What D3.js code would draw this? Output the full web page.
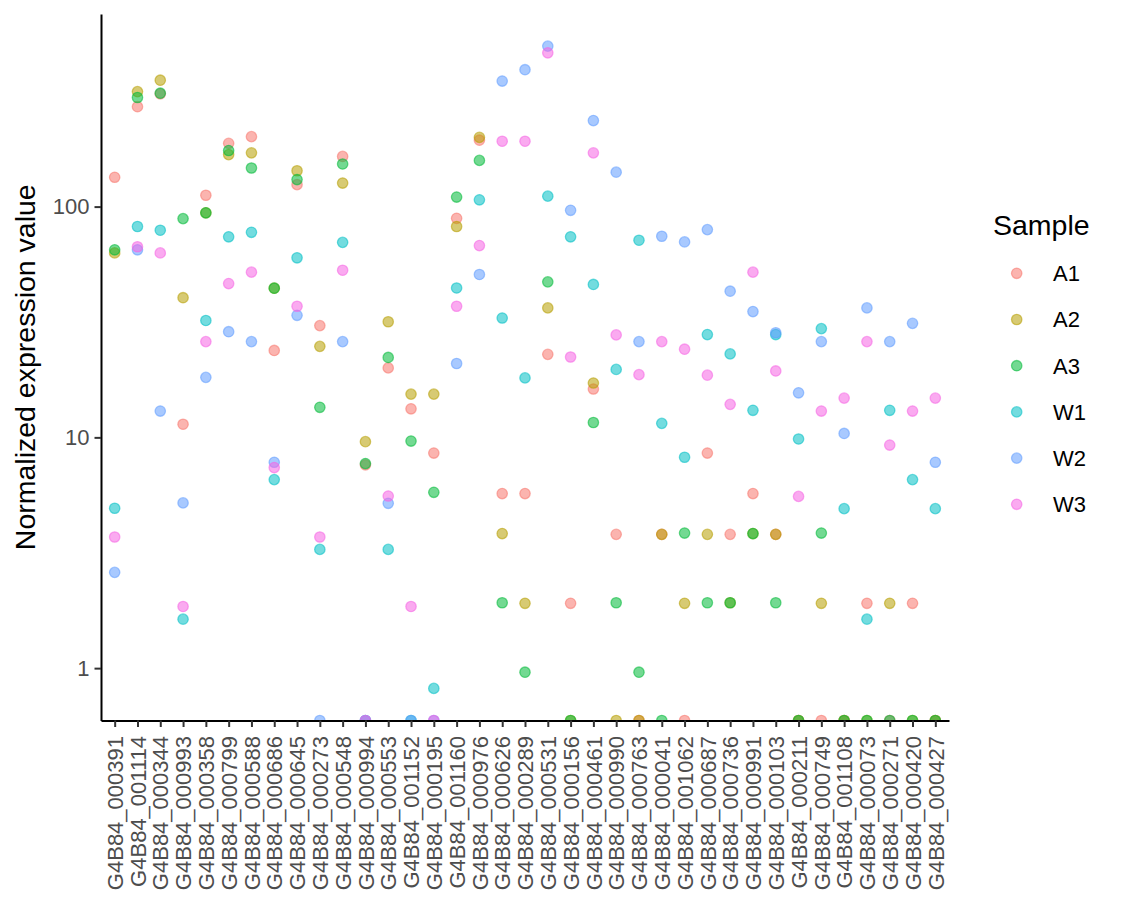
<!DOCTYPE html>
<html>
<head>
<meta charset="utf-8">
<script src="https://cdn.jsdelivr.net/npm/d3@7"></script>
<style>
  body { margin: 0; background: #fff; }
  text { font-family: "Liberation Sans", Arial, Helvetica, sans-serif; }
</style>
</head>
<body>
<div id="root"></div>
<script>
const genes = ["G4B84_000391", "G4B84_001114", "G4B84_000344", "G4B84_000993", "G4B84_000358",
  "G4B84_000799", "G4B84_000588", "G4B84_000686", "G4B84_000645", "G4B84_000273",
  "G4B84_000548", "G4B84_000994", "G4B84_000553", "G4B84_001152", "G4B84_000195",
  "G4B84_001160", "G4B84_000976", "G4B84_000626", "G4B84_000289", "G4B84_000531",
  "G4B84_000156", "G4B84_000461", "G4B84_000990", "G4B84_000763", "G4B84_000041",
  "G4B84_001062", "G4B84_000687", "G4B84_000736", "G4B84_000991", "G4B84_000103",
  "G4B84_000211", "G4B84_000749", "G4B84_001108", "G4B84_000073", "G4B84_000271",
  "G4B84_000420", "G4B84_000427"];

const samples = ["A1", "A2", "A3", "W1", "W2", "W3"];
const sampleColors = ["#F8766D", "#B79F00", "#00BA38", "#00BFC4", "#619CFF", "#F564E3"];

// 0 = no expression (drawn on the bottom edge, like -Inf in a log plot)
const a1 = [134, 271, 308, 11.4, 112, 188, 201, 23.8, 124.5, 30.5, 165, 7.6, 20, 13.3, 8.55, 89, 194,
  5.71, 5.71, 22.9, 1.91, 16.2, 3.8, 0, 3.8, 0, 8.55, 3.8, 5.71, 3.8, 0, 0, 0, 1.91, 0, 1.91, 0];
const a2 = [63, 315, 353, 40.3, 94, 168, 171, 44.3, 143, 24.8, 126.5, 9.58, 31.7, 15.4, 15.4, 82, 199.6,
  3.83, 1.91, 36.4, 0, 17.2, 0, 0, 3.8, 1.91, 3.8, 1.92, 3.83, 3.8, 0, 1.91, 0, 0, 1.91, 0, 0];
const a3 = [65, 297, 310, 88.7, 94, 175, 147, 44.3, 131, 13.5, 153, 7.7, 22.2, 9.64, 5.78, 110, 158.6,
  1.92, 0.96, 47.2, 0, 11.6, 1.92, 0.96, 0, 3.85, 1.92, 1.92, 3.83, 1.92, 0, 3.85, 0, 0, 0, 0, 0];
const w1 = [4.93, 82, 79, 1.63, 32.1, 74, 77.4, 6.56, 60, 3.27, 70, 0, 3.27, 0, 0.817, 44.4, 107,
  32.9, 18.1, 111, 74, 46, 19.7, 71.5, 11.5, 8.2, 27.9, 23, 13.1, 27.9, 9.84, 29.6, 4.91, 1.63, 13.1, 6.56, 4.91];
const w2 = [2.6, 65, 13, 5.2, 18.2, 28.7, 26, 7.8, 33.8, 0, 26, 0, 5.18, 0, 0, 20.9, 50.8,
  350, 392, 496, 96.4, 236, 141, 26, 74.4, 70.3, 79.5, 43, 35.1, 28.4, 15.6, 26, 10.4, 36.4, 26, 31.2, 7.8];
const w3 = [3.7, 67, 63, 1.85, 26, 46.4, 52, 7.4, 37, 3.7, 53, 0, 5.57, 1.85, 0, 37, 67.8,
  192, 192, 464, 22.3, 171, 27.8, 18.7, 26, 24.1, 18.6, 13.9, 52, 19.4, 5.55, 13, 14.8, 26, 9.26, 13, 14.8];

const yTicks = [1, 10, 100];

const seriesValues = [a1, a2, a3, w1, w2, w3];

let points = [];
samples.forEach((s, si) => {
    seriesValues[si].forEach((v, gi) => points.push({ gene: genes[gi], sample: s, value: v }));
});

const outerWidth = 1122;
const outerHeight = 914;
const panel = { left: 101, right: 949, top: 14, bottom: 720.5 };

const svg = d3.select("#root")
    .append("svg")
    .attr("width", outerWidth)
    .attr("height", outerHeight);

svg.append("rect").attr("width", outerWidth).attr("height", outerHeight).attr("fill", "#fff");

// log scale with ggplot-like 5% expansion in log space
const nonZero = points.filter(d => d.value > 0).map(d => Math.log10(d.value));
let lo = d3.min(nonZero), hi = d3.max(nonZero);
let pad = (hi - lo) * 0.05;

let scaleY = d3.scaleLog()
    .domain([Math.pow(10, lo - pad), Math.pow(10, hi + pad)])
    .range([panel.bottom, panel.top]);

let scaleX = d3.scalePoint()
    .domain(genes)
    .range([panel.left, panel.right])
    .padding(0.6);

let color = d3.scaleOrdinal().domain(samples).range(sampleColors);

svg.append("clipPath").attr("id", "panel-clip")
    .append("rect")
    .attr("x", panel.left)
    .attr("y", panel.top)
    .attr("width", panel.right - panel.left)
    .attr("height", panel.bottom - panel.top);

svg.append("g")
    .attr("clip-path", "url(#panel-clip)")
    .selectAll("circle")
    .data(points)
    .enter().append("circle")
    .attr("cx", d => scaleX(d.gene))
    .attr("cy", d => d.value > 0 ? scaleY(d.value) : panel.bottom)
    .attr("r", 5.2)
    .attr("fill", d => color(d.sample))
    .attr("fill-opacity", 0.55)
    .attr("stroke", d => color(d.sample))
    .attr("stroke-opacity", 0.55)
    .attr("stroke-width", 1.3);

let yAxis = d3.axisLeft(scaleY)
    .tickValues(yTicks)
    .tickFormat(d3.format("d"))
    .tickSize(6.5)
    .tickSizeOuter(0)
    .tickPadding(5);

let xAxis = d3.axisBottom(scaleX)
    .tickSize(6.5)
    .tickSizeOuter(0)
    .tickPadding(10);

let gy = svg.append("g")
    .attr("class", "y axis")
    .attr("transform", `translate(${panel.left}, 0)`)
    .call(yAxis);

let gx = svg.append("g")
    .attr("class", "x axis")
    .attr("transform", `translate(0, ${panel.bottom})`)
    .call(xAxis);

[gx, gy].forEach(g => {
    g.select(".domain").attr("stroke", "#000").attr("stroke-width", 2);
    g.selectAll(".tick line").attr("stroke", "#333").attr("stroke-width", 2);
    g.selectAll(".tick text").attr("fill", "#4D4D4D").style("font-size", "22px")
        .style("font-family", "'Liberation Sans', Arial, Helvetica, sans-serif");
});

gx.selectAll(".tick text")
    .attr("transform", "rotate(-90)")
    .attr("x", -15.5)
    .attr("y", 0)
    .attr("dy", "0.35em")
    .style("text-anchor", "end");

svg.append("text")
    .attr("transform", `translate(35, ${(panel.top + panel.bottom) / 2}) rotate(-90)`)
    .style("text-anchor", "middle")
    .style("font-size", "28.5px")
    .attr("fill", "#000")
    .text("Normalized expression value");

// legend
let legend = svg.append("g").attr("transform", "translate(993, 0)");

legend.append("text")
    .attr("x", 0)
    .attr("y", 235)
    .style("font-size", "28.5px")
    .attr("fill", "#000")
    .text("Sample");

let key = legend.selectAll(".key")
    .data(samples)
    .enter().append("g")
    .attr("class", "key")
    .attr("transform", (d, i) => `translate(0, ${273.3 + i * 46.2})`);

key.append("circle")
    .attr("cx", 23.7)
    .attr("cy", 0)
    .attr("r", 5.2)
    .attr("fill", d => color(d))
    .attr("fill-opacity", 0.55)
    .attr("stroke", d => color(d))
    .attr("stroke-opacity", 0.55)
    .attr("stroke-width", 1.3);

key.append("text")
    .attr("x", 60)
    .attr("y", 0)
    .attr("dy", "0.36em")
    .style("font-size", "22px")
    .attr("fill", "#000")
    .text(d => d);
</script>
</body>
</html>
